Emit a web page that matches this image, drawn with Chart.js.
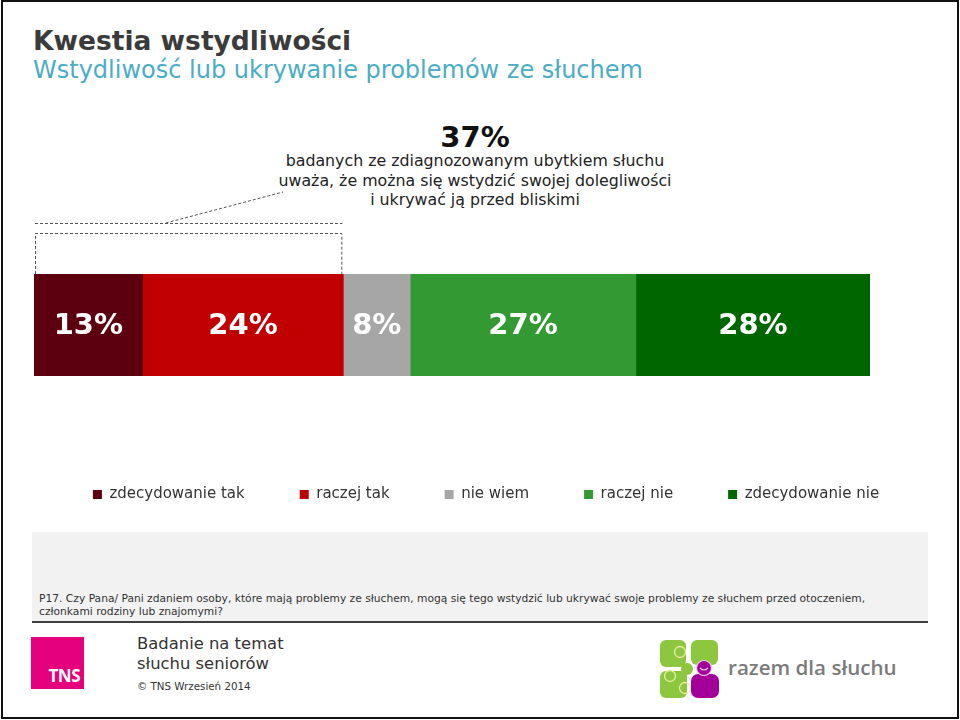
<!DOCTYPE html>
<html>
<head>
<meta charset="utf-8">
<script src="https://cdn.jsdelivr.net/npm/chart.js@4"></script>
<style>
  html, body { margin: 0; padding: 0; background: #fff; }
  body { width: 960px; height: 720px; position: relative; overflow: hidden; font-family: "DejaVu Sans", Verdana, sans-serif; }
  .abs { position: absolute; white-space: nowrap; }
  #frame { position: absolute; left: 1px; top: 0; width: 958px; height: 719px; box-sizing: border-box; border: 2px solid #111; }
  #title { left: 33px; top: 26px; font-size: 26.5px; font-weight: bold; color: #3b3b3b; line-height: 30px; }
  #subtitle { left: 33px; top: 56px; font-size: 24px; color: #4bacc6; line-height: 28px; }
  #big { left: 275px; width: 400px; top: 121px; text-align: center; font-size: 29px; font-weight: bold; color: #111; line-height: 32px; }
  #callout { left: 225px; width: 500px; top: 151px; text-align: center; font-size: 15.8px; color: #222; line-height: 19.5px; }
  #note { left: 32px; top: 532px; width: 896px; height: 89px; background: #f2f2f2; }
  #noteText { left: 39px; top: 592px; font-size: 10.7px; color: #333; line-height: 13px; }
  #rule { left: 32px; top: 621px; width: 896px; height: 2px; background: #3f3f3f; }
  #tns { left: 31px; top: 637px; width: 53px; height: 52px; background: #e5007d; }
  #tns span { position: absolute; right: 4px; bottom: 2px; color: #fff; font-family: "Open Sans", sans-serif; font-weight: bold; font-size: 17px; letter-spacing: -0.5px; }
  #study { left: 137px; top: 634px; font-size: 16.4px; color: #333; line-height: 20px; }
  #copy { left: 137px; top: 680px; font-size: 10.3px; color: #333; }
  #razem { left: 728px; top: 653px; font-family: "Open Sans", sans-serif; font-weight: 600; font-size: 20.6px; color: #7b7b7b; }
  #chartBox { position: absolute; left: 0; top: 180px; }
</style>
</head>
<body>
<div id="frame"></div>
<div id="title" class="abs">Kwestia wstydliwości</div>
<div id="subtitle" class="abs">Wstydliwość lub ukrywanie problemów ze słuchem</div>
<div id="big" class="abs">37%</div>
<div id="callout" class="abs">badanych ze zdiagnozowanym ubytkiem słuchu<br>uważa, że można się wstydzić swojej dolegliwości<br>i ukrywać ją przed bliskimi</div>
<div id="note" class="abs"></div>
<div id="noteText" class="abs">P17. Czy Pana/ Pani zdaniem osoby, które mają problemy ze słuchem, mogą się tego wstydzić lub ukrywać swoje problemy ze słuchem przed otoczeniem,<br>członkami rodziny lub znajomymi?</div>
<div id="rule" class="abs"></div>
<div id="tns" class="abs"><span>TNS</span></div>
<div id="study" class="abs">Badanie na temat<br>słuchu seniorów</div>
<div id="copy" class="abs">© TNS Wrzesień 2014</div>
<svg class="abs" style="left:658px;top:638px" width="64" height="62" viewBox="0 0 64 62">
  <rect x="2" y="2" width="26" height="27" rx="6" fill="#8dc63f"/>
  <rect x="33" y="2" width="27" height="25" rx="6" fill="#8dc63f"/>
  <rect x="2" y="33" width="27" height="27" rx="6" fill="#8dc63f"/>
  <circle cx="29" cy="31" r="6" fill="#8dc63f"/>
  <circle cx="22" cy="14" r="5.5" fill="none" stroke="#e6f0a0" stroke-width="1.3"/>
  <circle cx="12" cy="38" r="5.5" fill="none" stroke="#e6f0a0" stroke-width="1.3"/>
  <circle cx="27" cy="50" r="5.5" fill="none" stroke="#e6f0a0" stroke-width="1.3"/>
  <rect x="33" y="36" width="28" height="24" rx="7" fill="#a3009a"/>
  <circle cx="46" cy="30" r="7.5" fill="#a3009a" stroke="#f3d0ef" stroke-width="1.2"/>
  <path d="M42 30 q4 4 8 0" fill="none" stroke="#f3d0ef" stroke-width="1.1"/>
</svg>
<div id="razem" class="abs">razem dla słuchu</div>
<div id="chartBox"><canvas id="c" width="960" height="332"></canvas></div>
<script>
// data
const categories = ["P17"];
const seriesLabels = ["zdecydowanie tak", "raczej tak", "nie wiem", "raczej nie", "zdecydowanie nie"];
const seriesValues = [13, 24, 8, 27, 28];
const seriesColors = ["#5c0010", "#c00000", "#a6a6a6", "#339933", "#006600"];

// white percent labels inside each segment
const segmentLabels = {
  id: "segmentLabels",
  afterDatasetsDraw(chart) {
    const ctx = chart.ctx;
    ctx.save();
    ctx.fillStyle = "#fff";
    ctx.font = "bold 29px 'DejaVu Sans'";
    ctx.textAlign = "center";
    ctx.textBaseline = "middle";
    chart.data.datasets.forEach((ds, i) => {
      chart.getDatasetMeta(i).data.forEach((bar, j) => {
        const p = bar.getCenterPoint();
        ctx.fillText(ds.data[j] + "%", p.x, p.y + 1);
      });
    });
    ctx.restore();
  },
};

// dashed bracket over the two "tak" segments
const bracket = {
  id: "bracket",
  afterDraw(chart) {
    const a = chart.getDatasetMeta(0).data[0];
    const b = chart.getDatasetMeta(1).data[0];
    const left = Math.min(a.base, a.x) + 1;
    const right = Math.max(b.base, b.x) - 2;
    const top = a.y - a.height / 2;
    const ctx = chart.ctx;
    ctx.save();
    ctx.strokeStyle = "#555";
    ctx.lineWidth = 1;
    ctx.setLineDash([3, 2]);
    ctx.beginPath();
    ctx.moveTo(left + 0.5, top);
    ctx.lineTo(left + 0.5, top - 40.5);
    ctx.lineTo(right + 0.5, top - 40.5);
    ctx.lineTo(right + 0.5, top);
    ctx.moveTo(left, top - 50.5);
    ctx.lineTo(right + 1, top - 50.5);
    const sx = left + (right - left) * 0.427;
    ctx.moveTo(sx, top - 51);
    ctx.lineTo(left + (right - left) * 0.81, top - 82);
    ctx.stroke();
    ctx.restore();
  },
};

const hidden = { ticks: { display: false }, grid: { display: false }, border: { display: false } };

new Chart(document.getElementById("c").getContext("2d"), {
  type: "bar",
  data: {
    labels: categories,
    datasets: seriesLabels.map((label, i) => ({
      label: label,
      data: [seriesValues[i]],
      backgroundColor: seriesColors[i],
      borderWidth: 0,
      barPercentage: 1,
      categoryPercentage: 1,
    })),
  },
  options: {
    indexAxis: "y",
    responsive: false,
    animation: false,
    layout: { padding: { top: 94, left: 12, right: 0, bottom: 0 } },
    scales: {
      x: { stacked: true, min: 0, max: 100, ...hidden, afterFit(s) { s.height = 56; } },
      y: { stacked: true, ...hidden, afterFit(s) { s.width = 22; } },
      y2: { type: "linear", position: "right", ...hidden, afterFit(s) { s.width = 90; } },
    },
    plugins: {
      tooltip: { enabled: false },
      legend: {
        position: "bottom",
        labels: {
          boxWidth: 9,
          boxHeight: 9,
          padding: 55,
          color: "#333",
          font: { family: "'DejaVu Sans'", size: 15 },
        },
      },
    },
  },
  plugins: [segmentLabels, bracket],
});
</script>
</body>
</html>
